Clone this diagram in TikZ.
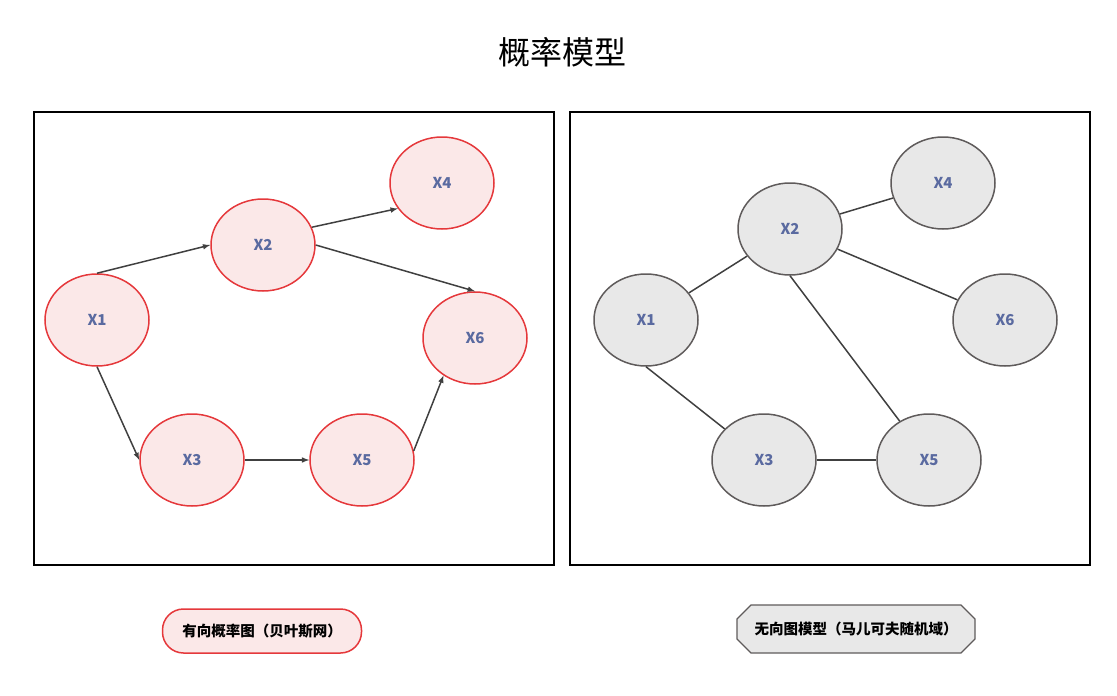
\documentclass[tikz,border=0pt]{standalone}
\usepackage{fontspec}
\setmainfont{Noto Sans CJK SC}
\usetikzlibrary{shapes.misc,shapes.geometric}
\definecolor{redline}{HTML}{E5383B}
\definecolor{redfill}{HTML}{FBE8E8}
\definecolor{greyline}{HTML}{5F5B5B}
\definecolor{greyfill}{HTML}{E8E8E8}
\definecolor{textblue}{HTML}{5A6AA0}
\definecolor{edgecol}{HTML}{404040}
\tikzset{
  redvar/.style={ellipse, draw=redline, fill=redfill, line width=1.5pt, minimum width=104pt, minimum height=92pt, font=\bfseries\fontsize{15}{17}\selectfont, text=textblue},
  greyvar/.style={ellipse, draw=greyline, fill=greyfill, line width=1.5pt, minimum width=104pt, minimum height=92pt, font=\bfseries\fontsize{15}{17}\selectfont, text=textblue},
  dirarrow/.style={draw=edgecol, line width=1.5pt, -latex},
  undline/.style={draw=edgecol, line width=1.5pt},
}
\begin{document}
\begin{tikzpicture}[x=1pt, y=-1pt]
  \useasboundingbox (0,0) rectangle (1117,696);
  \node (title) at (562,52) {\fontsize{32}{36}\selectfont 概率模型};

  % frames
  \draw[line width=1.6pt] (34,112) rectangle (554,565);
  \draw[line width=1.6pt] (570,112) rectangle (1090,565);

  % directed model
  \node[redvar] (a1) at (97,320) {X1};
  \node[redvar] (a2) at (263,245) {X2};
  \node[redvar] (a4) at (442,183) {X4};
  \node[redvar] (a6) at (475,338) {X6};
  \node[redvar] (a3) at (192,460) {X3};
  \node[redvar] (a5) at (362,460) {X5};
  \draw[dirarrow] (a1.north) -- (a2.west);
  \draw[dirarrow] (a2.20) -- (a4.210);
  \draw[dirarrow] (a2.east) -- (a6.north);
  \draw[dirarrow] (a1.south) -- (a3.west);
  \draw[dirarrow] (a3) -- (a5);
  \draw[dirarrow] (a5.10) -- (a6.230);

  % undirected model
  \node[greyvar] (b1) at (646,320) {X1};
  \node[greyvar] (b2) at (790,229) {X2};
  \node[greyvar] (b4) at (943,183) {X4};
  \node[greyvar] (b6) at (1005,320) {X6};
  \node[greyvar] (b3) at (764,460) {X3};
  \node[greyvar] (b5) at (929,460) {X5};
  \draw[undline] (b1) -- (b2);
  \draw[undline] (b2) -- (b4);
  \draw[undline] (b2) -- (b6);
  \draw[undline] (b2.south) -- (b5);
  \draw[undline] (b1.south) -- (b3);
  \draw[undline] (b3) -- (b5);

  % captions
  \node[draw=redline, fill=redfill, line width=1.5pt, rounded corners=21pt, minimum width=199pt, minimum height=44pt, font=\bfseries\fontsize{14.5}{17}\selectfont] (capa) at (262,631) {有向概率图（贝叶斯网）};
  \node[chamfered rectangle, chamfered rectangle xsep=12pt, draw=greyline, fill=greyfill, line width=1.2pt, minimum width=238pt, minimum height=48pt, font=\bfseries\fontsize{14.5}{17}\selectfont] (capb) at (856,629) {无向图模型（马儿可夫随机域）};
\end{tikzpicture}
\end{document}
